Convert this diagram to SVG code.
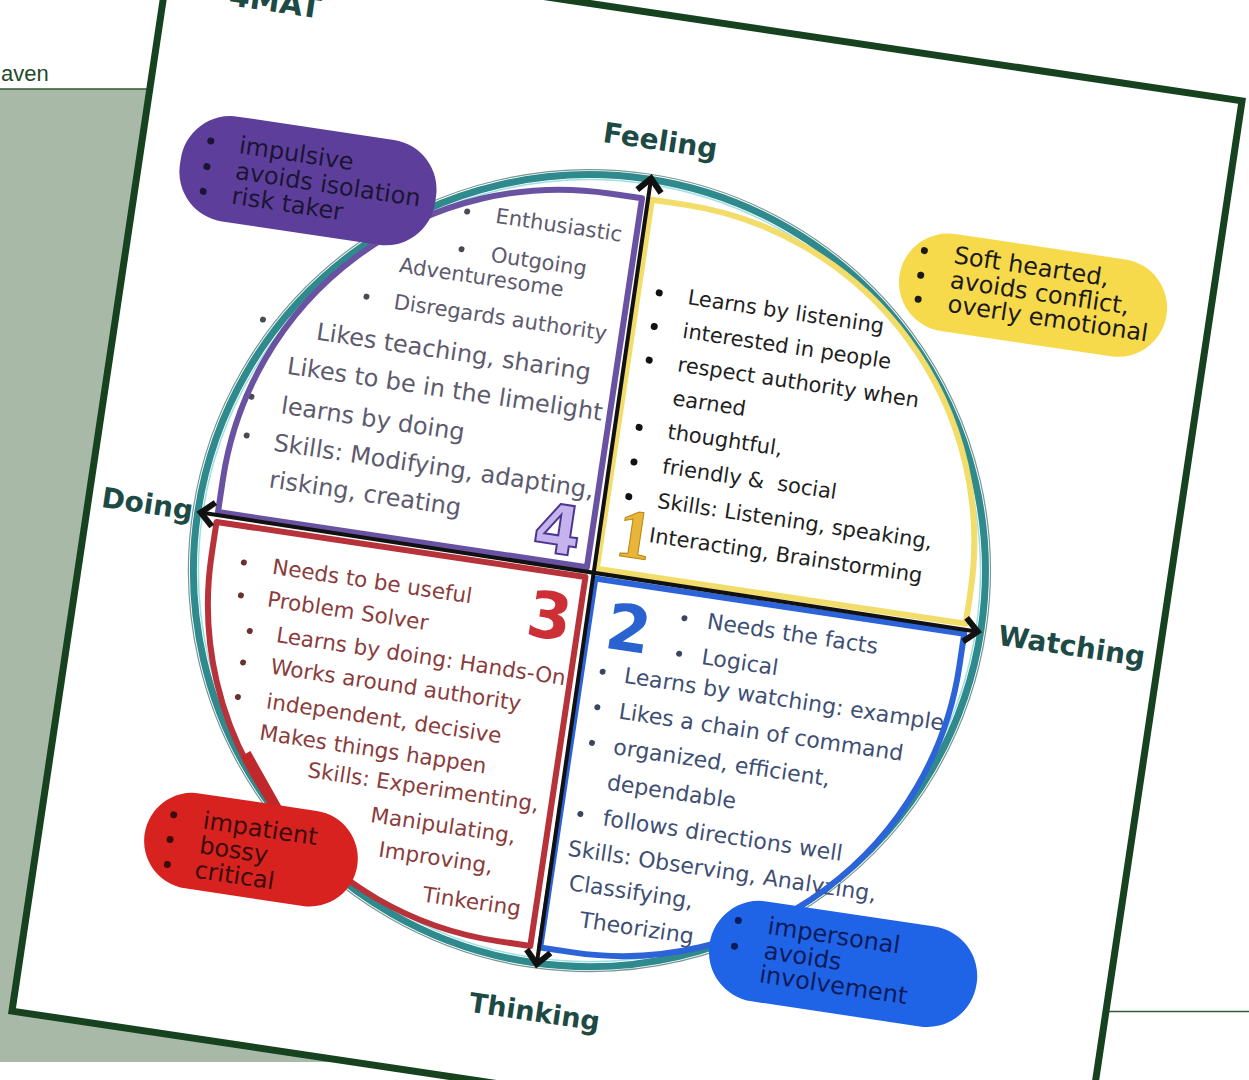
<svg xmlns="http://www.w3.org/2000/svg" width="1249" height="1080" viewBox="0 0 1249 1080">
<defs>
<style>
text{font-family:'DejaVu Sans','Liberation Sans',sans-serif}
.lbl{font-weight:bold;font-size:28px;fill:#1d4a45}
.q1{font-size:21px;fill:#1f1f1f}
.q2{font-size:22px;fill:#3e4f73}
.q3{font-size:21.5px;fill:#8a3c3c}
.q4{font-size:21px;fill:#5d5a6e}
.q4l{font-size:24px;fill:#5d5a6e}
.bt{font-size:24px}
.qf{fill:#fff;stroke:none}
.qs{fill:none;stroke-width:6;stroke-linejoin:round}
.axis{stroke:#111;stroke-width:4;fill:none}
.num{font-weight:bold}
</style>
<marker id="chev" viewBox="-16 -16 32 32" refX="0" refY="0" markerWidth="32" markerHeight="32" markerUnits="userSpaceOnUse" orient="auto-start-reverse">
<path d="M-13,-12 L0,0 L-13,12" fill="none" stroke="#111" stroke-width="6"/>
</marker>
</defs>
<rect width="1249" height="1080" fill="#fff"/>
<g id="page-bg">
<rect x="0" y="89" width="700" height="973" fill="#a8b9a8"/>
<line x1="0" y1="89" x2="300" y2="89" stroke="#2d5a34" stroke-width="1.5"/>
<line x1="1000" y1="1011.5" x2="1249" y2="1011.5" stroke="#2d5a34" stroke-width="1.5"/>
<text x="1" y="81" style="font-family:'Liberation Sans',sans-serif;font-size:22px;fill:#1f4a2a">aven</text>
</g>
<g id="card" transform="translate(627 556) rotate(8.5)">
<rect x="-541" y="-541" width="1082" height="1082" fill="#fff" stroke="#17421f" stroke-width="7"/>
<g id="title"><text x="-476" y="-486" class="lbl" style="font-size:30px">4MAT</text></g>
<g id="ring">
<circle cx="-35" cy="20" r="401" fill="none" stroke="#3d6b66" stroke-width="1.2" opacity="0.7"/>
<circle cx="-35" cy="20" r="396" fill="none" stroke="#2f8a8e" stroke-width="7"/>
<circle cx="-35" cy="20" r="391" fill="none" stroke="#9fe0e0" stroke-width="1.5"/>
</g>
<g id="quadrant-4">
<path class="qf" d="M-38,17 H-411 V-16 A340,340 0 0 1 -71,-356 H-38 Z"/>
<text class="q4" x="-180" y="-310">Enthusiastic</text>
<text class="q4" x="-179" y="-271">Outgoing</text>
<text class="q4" x="-268" y="-247">Adventuresome</text>
<text class="q4" x="-268" y="-210">Disregards authority</text>
<text class="q4l" x="-340" y="-168">Likes teaching, sharing</text>
<text class="q4l" x="-364" y="-130">Likes to be in the limelight</text>
<text class="q4l" x="-364" y="-90">learns by doing</text>
<text class="q4l" x="-366" y="-52">Skills: Modifying, adapting,</text>
<text class="q4l" x="-365" y="-15">risking, creating</text>
<g fill="#4a4a55"><circle cx="-209" cy="-317" r="3"/><circle cx="-209" cy="-279" r="3"/><circle cx="-296" cy="-218" r="3"/><circle cx="-395" cy="-180" r="3"/><circle cx="-395" cy="-102" r="3"/><circle cx="-394" cy="-63" r="3"/></g>
<text class="num" x="-96" y="8" style="font-size:68px;fill:#c4b3ec;stroke:#4e3590;stroke-width:2">4</text>
<path class="qs" stroke="#6a52a3" d="M-38,17 H-411 V-16 A340,340 0 0 1 -71,-356 H-38 Z"/>
</g>
<g id="quadrant-1">
<path class="qf" d="M-28,17 V-356 H5 A340,340 0 0 1 345,-16 V17 Z"/>
<text class="q1" x="22" y="-258">Learns by listening</text>
<text class="q1" x="22" y="-224">interested in people</text>
<text class="q1" x="22" y="-190">respect authority when</text>
<text class="q1" x="22" y="-156">earned</text>
<text class="q1" x="22" y="-122">thoughtful,</text>
<text class="q1" x="22" y="-87">friendly &amp;&#160; social</text>
<text class="q1" x="22" y="-52">Skills: Listening, speaking,</text>
<text class="q1" x="19" y="-17">Interacting, Brainstorming</text>
<g fill="#111"><circle cx="-7" cy="-265" r="3.5"/><circle cx="-7" cy="-231" r="3.5"/><circle cx="-7" cy="-197" r="3.5"/><circle cx="-7" cy="-129" r="3.5"/><circle cx="-7" cy="-94" r="3.5"/><circle cx="-7" cy="-59" r="3.5"/></g>
<text class="num" x="-13" y="1" style="font-family:'Liberation Serif',serif;font-size:70px;fill:#e8b53a;stroke:#b8860b;stroke-width:1">1</text>
<path class="qs" stroke="#f2dc6a" stroke-width="7" d="M-28,17 V-356 H5 A340,340 0 0 1 345,-16 V17 Z"/>
</g>
<g id="quadrant-2">
<path class="qf" d="M-28,27 H345 V60 A340,340 0 0 1 5,400 H-28 Z"/>
<text class="q2" x="89" y="60">Needs the facts</text>
<text class="q2" x="89" y="96">Logical</text>
<text class="q2" x="15" y="126">Learns by watching: example</text>
<text class="q2" x="15" y="162">Likes a chain of command</text>
<text class="q2" x="15" y="198">organized, efficient,</text>
<text class="q2" x="14" y="234">dependable</text>
<text class="q2" x="15" y="270">follows directions well</text>
<text class="q2" x="-15" y="305">Skills: Observing, Analyzing,</text>
<text class="q2" x="-9" y="339">Classifying,</text>
<text class="q2" x="7" y="374">Theorizing</text>
<g fill="#3a4560"><circle cx="66" cy="53" r="3"/><circle cx="66" cy="89" r="3"/><circle cx="-7" cy="118" r="3"/><circle cx="-7" cy="154" r="3"/><circle cx="-7" cy="190" r="3"/><circle cx="-8" cy="262" r="3"/></g>
<text class="num" x="-10" y="94" style="font-size:64px;fill:#2a63cf">2</text>
<path class="qs" stroke="#2c63d8" d="M-28,27 H345 V60 A340,340 0 0 1 5,400 H-28 Z"/>
</g>
<g id="quadrant-3">
<path class="qf" d="M-38,27 V400 H-71 A340,340 0 0 1 -411,60 V27 Z"/>
<text class="q3" x="-349" y="70">Needs to be useful</text>
<text class="q3" x="-349" y="103">Problem Solver</text>
<text class="q3" x="-335" y="137">Learns by doing: Hands-On</text>
<text class="q3" x="-336" y="169">Works around authority</text>
<text class="q3" x="-335" y="204">independent, decisive</text>
<text class="q3" x="-337" y="236">Makes things happen</text>
<text class="q3" x="-284" y="266">Skills: Experimenting,</text>
<text class="q3" x="-215" y="301">Manipulating,</text>
<text class="q3" x="-202" y="334">Improving,</text>
<text class="q3" x="-152" y="372">Tinkering</text>
<g fill="#6a3030"><circle cx="-378" cy="63" r="3"/><circle cx="-376" cy="96" r="3"/><circle cx="-362" cy="130" r="3"/><circle cx="-364" cy="162" r="3"/><circle cx="-364" cy="197" r="3"/></g>
<text class="num" x="-90" y="93" style="font-size:64px;fill:#cc2f36">3</text>
<path class="qs" stroke="#b8323a" d="M-38,27 V400 H-71 A340,340 0 0 1 -411,60 V27 Z"/>
</g>
<g id="connectors">
<line class="axis" x1="-428" y1="20" x2="358" y2="23" marker-start="url(#chev)" marker-end="url(#chev)"/>
<line class="axis" x1="-32" y1="-377" x2="-29" y2="417" marker-start="url(#chev)" marker-end="url(#chev)"/>
</g>
<g id="balloon-4">
<rect x="-500" y="-377" width="258" height="106" rx="50" fill="#5d3f9b"/>
<g fill="#1b1533"><circle cx="-473" cy="-349" r="3.5"/><circle cx="-473" cy="-323" r="3.5"/><circle cx="-473" cy="-298" r="3.5"/></g>
<text class="bt" x="-444" y="-341" fill="#1b1533">impulsive</text>
<text class="bt" x="-444" y="-315" fill="#1b1533">avoids isolation</text>
<text class="bt" x="-444" y="-290" fill="#1b1533">risk taker</text>
</g>
<g id="balloon-1">
<rect x="228" y="-367" width="270" height="98" rx="49" fill="#f7d94c"/>
<g fill="#1a1a1a"><circle cx="249" cy="-346" r="3.5"/><circle cx="249" cy="-321" r="3.5"/><circle cx="250" cy="-297" r="3.5"/></g>
<text class="bt" x="279" y="-338" fill="#1a1a1a">Soft hearted,</text>
<text class="bt" x="279" y="-313" fill="#1a1a1a">avoids conflict,</text>
<text class="bt" x="280" y="-289" fill="#1a1a1a">overly emotional</text>
</g>
<g id="balloon-3">
<line x1="-348" y1="252" x2="-306" y2="306" stroke="#c0282c" stroke-width="11"/>
<rect x="-436" y="298" width="215" height="96" rx="48" fill="#d8221f"/>
<g fill="#3a0c0c"><circle cx="-410" cy="323" r="3.5"/><circle cx="-410" cy="348" r="3.5"/><circle cx="-409" cy="373" r="3.5"/></g>
<text class="bt" x="-380" y="332" fill="#3a0c0c">impatient</text>
<text class="bt" x="-380" y="357" fill="#3a0c0c">bossy</text>
<text class="bt" x="-381" y="382" fill="#3a0c0c">critical</text>
</g>
<g id="balloon-2">
<rect x="139" y="321" width="270" height="101" rx="50" fill="#1f63e6"/>
<g fill="#0d1b5a"><circle cx="164" cy="344" r="3.5"/><circle cx="164" cy="370" r="3.5"/></g>
<text class="bt" x="194" y="353" fill="#0d1b5a">impersonal</text>
<text class="bt" x="194" y="378" fill="#0d1b5a">avoids</text>
<text class="bt" x="193" y="402" fill="#0d1b5a">involvement</text>
</g>
<g id="label-feeling"><text class="lbl" x="-86" y="-406">Feeling</text></g>
<g id="label-watching"><text class="lbl" x="379" y="33">Watching</text></g>
<g id="label-doing"><text class="lbl" x="-528" y="29">Doing</text></g>
<g id="label-thinking"><text class="lbl" x="-90" y="474" style="font-size:27px">Thinking</text></g>
</g>
</svg>
